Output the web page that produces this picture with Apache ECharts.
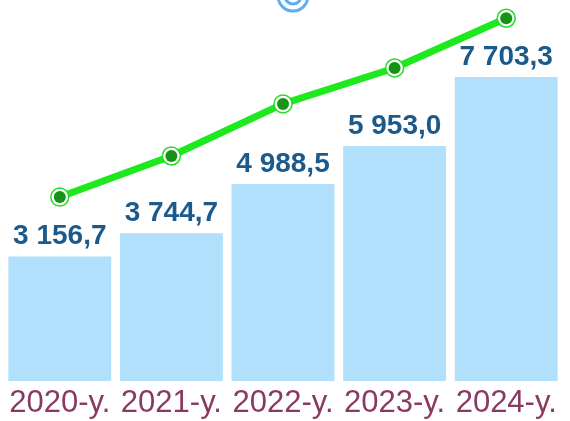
<!DOCTYPE html>
<html>
<head>
<meta charset="utf-8">
<script src="https://cdn.jsdelivr.net/npm/echarts@6/dist/echarts.min.js"></script>
<style>
  html, body { margin: 0; padding: 0; background: #ffffff; }
  #chart { width: 570px; height: 421px; }
</style>
</head>
<body>
<div id="chart"></div>
<script>
// Yearly totals drawn as bars, plus a rising trend line above them
var years = ['2020-y.', '2021-y.', '2022-y.', '2023-y.', '2024-y.'];
var totals = [3156.7, 3744.7, 4988.5, 5953.0, 7703.3];
var trend = [4660, 5700, 7020, 7930, 9190];

// "3 156,7" style: space as thousands separator, comma as decimal mark
function fmt(v) {
  var parts = v.toFixed(1).split('.');
  var intPart = parts[0].replace(/\B(?=(\d{3})+(?!\d))/g, ' ');
  return intPart + ',' + parts[1];
}

var chart = echarts.init(document.getElementById('chart'), null, { renderer: 'canvas' });

chart.setOption({
  backgroundColor: '#ffffff',
  animation: false,
  grid: { left: 4, right: 8, top: 6, bottom: 40 },
  xAxis: {
    type: 'category',
    data: years,
    axisLine: { show: false },
    axisTick: { show: false },
    axisLabel: {
      interval: 0,
      color: '#8a3a62',
      fontFamily: 'Liberation Sans, Arial, sans-serif',
      fontSize: 31,
      margin: 7
    }
  },
  yAxis: { type: 'value', min: 0, max: 9500, show: false },
  series: [
    {
      type: 'bar',
      data: totals,
      barCategoryGap: '7.8%',
      itemStyle: { color: '#b0e0fb' },
      label: {
        show: true,
        position: 'top',
        distance: 6,
        color: '#1b5a8b',
        fontFamily: 'Liberation Sans, Arial, sans-serif',
        fontWeight: 'bold',
        fontSize: 28,
        formatter: function (p) { return fmt(p.value); }
      }
    },
    {
      type: 'line',
      data: trend,
      clip: false,
      symbol: 'circle',
      symbolSize: 18,
      lineStyle: { color: '#1ee81e', width: 7 },
      itemStyle: { color: '#ffffff', borderColor: '#22dd22', borderWidth: 1.5 },
      z: 3
    },
    {
      type: 'scatter',
      data: trend,
      clip: false,
      symbol: 'circle',
      symbolSize: 12,
      itemStyle: { color: '#169216', opacity: 1 },
      z: 4
    }
  ],
  graphic: [
    {
      type: 'circle',
      shape: { cx: 293, cy: -4, r: 15 },
      style: { fill: 'none', stroke: '#5eaef5', lineWidth: 3 }
    },
    {
      type: 'circle',
      shape: { cx: 293, cy: -4, r: 8 },
      style: { fill: 'none', stroke: '#5eaef5', lineWidth: 3 }
    }
  ]
});
</script>
</body>
</html>
